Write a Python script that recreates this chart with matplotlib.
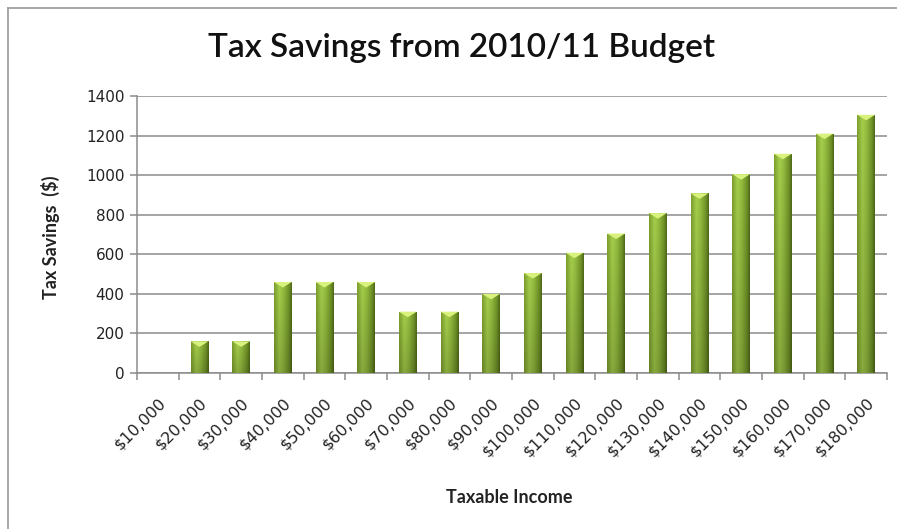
import numpy as np
import matplotlib.pyplot as plt
from matplotlib.colors import to_rgb
from matplotlib.patches import Polygon
from matplotlib.lines import Line2D

incomes = ['$10,000', '$20,000', '$30,000', '$40,000', '$50,000', '$60,000',
           '$70,000', '$80,000', '$90,000', '$100,000', '$110,000', '$120,000',
           '$130,000', '$140,000', '$150,000', '$160,000', '$170,000', '$180,000']
savings = [0, 160, 160, 460, 460, 460, 310, 310, 400, 505,
           608, 705, 808, 908, 1005, 1108, 1210, 1305]
y_ticks = [0, 200, 400, 600, 800, 1000, 1200, 1400]

plt.rcParams['font.family'] = ['Lato', 'DejaVu Sans']


def bar_gradient():
    # horizontal shading across a bar, darker toward the base
    stops = [0.0, 0.3, 0.55, 0.85, 1.0]
    cols = [to_rgb('#7d9f2e'), to_rgb('#a6cf4c'), to_rgb('#93bb3e'),
            to_rgb('#6f9127'), to_rgb('#4f6a18')]
    xs = np.linspace(0, 1, 40)
    row = np.array([[np.interp(v, stops, [c[k] for c in cols]) for k in range(3)]
                    for v in xs])
    shade = np.linspace(0.82, 1.0, 60)[:, None, None]
    return np.clip(row[None, :, :] * shade, 0, 1)


fig = plt.figure(figsize=(8.97, 5.29), dpi=100)
ax = fig.add_axes([137 / 897, 1 - 373 / 529, 750 / 897, 277 / 529])

x = np.arange(len(incomes))
width = 0.43
bars = ax.bar(x, savings, width=width, color='#8db33a', zorder=2)
grad = bar_gradient()
for xi, b, v in zip(x, bars, savings):
    if v <= 0:
        continue
    im = ax.imshow(grad, extent=[xi - width / 2, xi + width / 2, 0, v],
                   origin='lower', aspect='auto', zorder=3)
    im.set_clip_path(b)
    # light bevel at the top of each bar
    bevel = Polygon([[xi - width / 2, v], [xi + width / 2, v], [xi, v - 28]],
                    closed=True, color='#d9f27e', zorder=4, lw=0)
    ax.add_patch(bevel)

ax.set_xlim(-0.5, len(incomes) - 0.5)
ax.set_ylim(0, 1400)
ax.set_yticks(y_ticks)
ax.set_yticklabels([str(t) for t in y_ticks], fontsize=11, color='#222222',
                   family='DejaVu Sans')
ax.yaxis.grid(True, color='#8c8c8c', lw=1.1, zorder=0)
ax.set_axisbelow(True)

ax.set_xticks(x)
ax.set_xticklabels(incomes, rotation=45, ha='right', rotation_mode='anchor',
                   fontsize=11.5, color='#222222', family='DejaVu Sans')
ax.set_xticks(np.arange(len(incomes) + 1) - 0.5, minor=True)
ax.tick_params(axis='x', which='major', length=0, pad=16)
ax.tick_params(axis='x', which='minor', length=5, color='#8c8c8c', width=1.1)
ax.tick_params(axis='y', length=5, color='#8c8c8c', width=1.1, pad=4)

for side in ['top', 'right']:
    ax.spines[side].set_visible(False)
for side in ['left', 'bottom']:
    ax.spines[side].set_color('#8c8c8c')
    ax.spines[side].set_linewidth(1.1)

ax.set_ylabel('Tax Savings  ($)', fontsize=13, fontweight='bold',
              color='#222222', va='center')
ax.yaxis.set_label_coords(-0.115, 0.491)
ax.set_xlabel('Taxable Income', fontsize=13, fontweight='bold',
              color='#222222', va='center')
ax.xaxis.set_label_coords(0.496, -0.448)

fig.text(461 / 897, 0.909, 'Tax Savings from 2010/11 Budget', ha='center',
         va='center', fontsize=24, fontweight='semibold', color='#111111')

# chart area border (left and top visible)
fig.add_artist(Line2D([8 / 897, 8 / 897], [0, 1 - 8 / 529],
                      color='#a0a0a0', lw=1.3, transform=fig.transFigure))
fig.add_artist(Line2D([8 / 897, 1], [1 - 8 / 529, 1 - 8 / 529],
                      color='#a0a0a0', lw=1.3, transform=fig.transFigure))

fig.savefig('out.png', dpi=100)
